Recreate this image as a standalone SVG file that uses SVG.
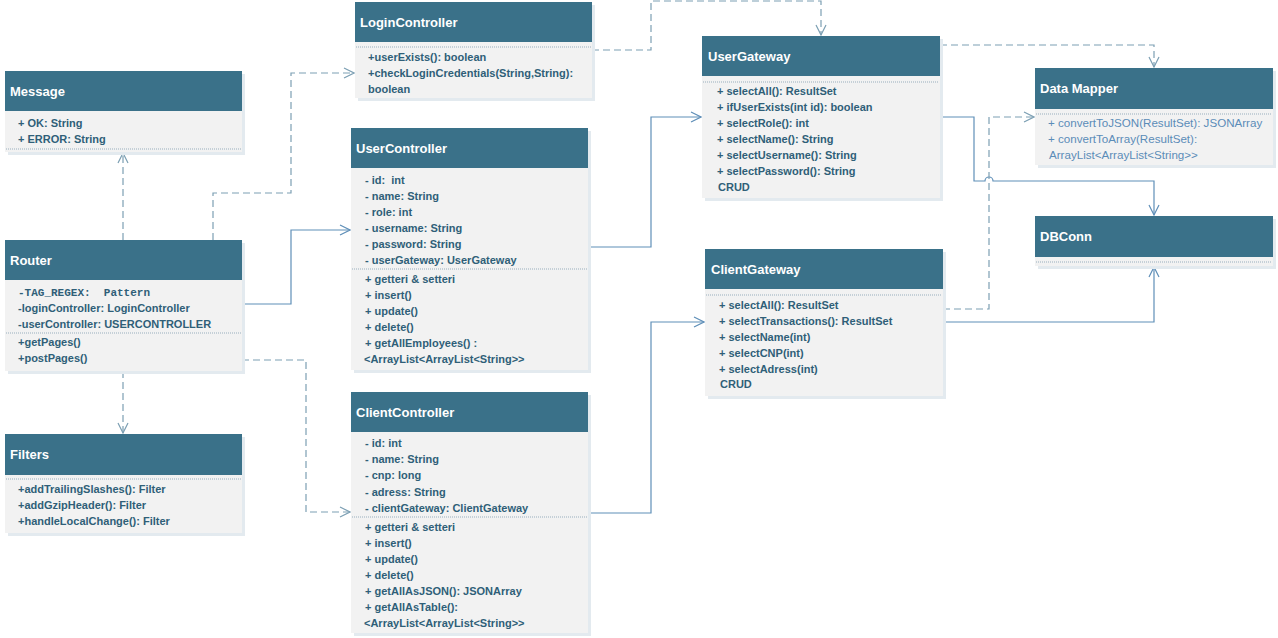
<svg xmlns="http://www.w3.org/2000/svg" width="1278" height="638" viewBox="0 0 1278 638">
<defs>
<style>
.sh{fill:#e3eaef}
.bd{fill:#f2f2f2}
.hd{fill:#3a7189}
.tt{font-family:"Liberation Sans",Arial,sans-serif;font-size:13px;font-weight:700;fill:#ffffff}
.tx{font-family:"Liberation Sans",Arial,sans-serif;font-size:11px;font-weight:700;fill:#2f5f78}
.mono{font-family:"Liberation Mono","Courier New",monospace;font-size:11px;font-weight:700;fill:#2f5f78}
.lt{font-family:"Liberation Sans",Arial,sans-serif;font-size:11.6px;fill:#5b8cb8}
.sep{stroke:#98aebd;stroke-width:1;stroke-dasharray:1,1;fill:none}
.dash{stroke:#7c9fb3;stroke-width:1.2;stroke-dasharray:7,4;fill:none}
.sol{stroke:#5f8fb8;stroke-width:1.2;fill:none}
</style>
<marker id="ad" viewBox="0 0 12 12" refX="11" refY="6" markerWidth="12" markerHeight="12" markerUnits="userSpaceOnUse" orient="auto">
<path d="M1,1 L11,6 L1,11" stroke="#7c9fb3" stroke-width="1.2" fill="none"/>
</marker>
<marker id="as" viewBox="0 0 12 12" refX="11" refY="6" markerWidth="12" markerHeight="12" markerUnits="userSpaceOnUse" orient="auto">
<path d="M1,1 L11,6 L1,11" stroke="#5f8fb8" stroke-width="1.2" fill="none"/>
</marker>
</defs>
<rect width="1278" height="638" fill="#ffffff"/>

<g id="connectors">
<path class="dash" d="M123,240 V153" marker-end="url(#ad)"/>
<path class="dash" d="M213,240 V193 H291 V73 H354" marker-end="url(#ad)"/>
<path class="sol" d="M242,304 H291 V230 H350" marker-end="url(#as)"/>
<path class="dash" d="M242,360 H306 V512 H350" marker-end="url(#ad)"/>
<path class="dash" d="M123,371 V433" marker-end="url(#ad)"/>
<path class="dash" d="M592,50 H651 V1 H821 V35" marker-end="url(#ad)"/>
<path class="sol" d="M588,247 H651 V117 H701" marker-end="url(#as)"/>
<path class="sol" d="M588,513 H651 V322 H704" marker-end="url(#as)"/>
<path class="dash" d="M940,45 H1154 V67" marker-end="url(#ad)"/>
<path class="sol" d="M940,117 H974 V181 H985 A4,4 0 0 1 993,181 H1154 V215" marker-end="url(#as)"/>
<path class="dash" d="M943,309 H989 V117 H1034" marker-end="url(#ad)"/>
<path class="sol" d="M943,322 H1154 V267" marker-end="url(#as)"/>
</g>

<g id="Message">
<rect class="sh" x="8" y="74" width="237" height="81"/>
<rect class="bd" x="5" y="71" width="237" height="81"/>
<rect class="hd" x="5" y="71" width="237" height="40"/>
<text class="tt" x="10" y="96">Message</text>
<text class="tx" x="18" y="127">+ OK: String</text>
<text class="tx" x="18" y="143">+ ERROR: String</text>
<line class="sep" x1="6" y1="149" x2="241" y2="149"/>
</g>

<g id="Router">
<rect class="sh" x="8" y="243" width="237" height="131"/>
<rect class="bd" x="5" y="240" width="237" height="131"/>
<rect class="hd" x="5" y="240" width="237" height="40"/>
<text class="tt" x="10" y="265">Router</text>
<text class="mono" x="18" y="296" xml:space="preserve">-TAG_REGEX:  Pattern</text>
<text class="tx" x="18" y="312">-loginController: LoginController</text>
<text class="tx" x="18" y="328">-userController: USERCONTROLLER</text>
<line class="sep" x1="6" y1="333" x2="241" y2="333"/>
<text class="tx" x="18" y="346">+getPages()</text>
<text class="tx" x="18" y="362">+postPages()</text>
</g>

<g id="Filters">
<rect class="sh" x="8" y="437" width="237" height="99"/>
<rect class="bd" x="5" y="434" width="237" height="99"/>
<rect class="hd" x="5" y="434" width="237" height="41"/>
<text class="tt" x="10" y="459">Filters</text>
<line class="sep" x1="6" y1="479" x2="241" y2="479"/>
<text class="tx" x="18" y="493">+addTrailingSlashes(): Filter</text>
<text class="tx" x="18" y="509">+addGzipHeader(): Filter</text>
<text class="tx" x="18" y="525">+handleLocalChange(): Filter</text>
</g>

<g id="LoginController">
<rect class="sh" x="358" y="5" width="237" height="96"/>
<rect class="bd" x="355" y="2" width="237" height="96"/>
<rect class="hd" x="355" y="2" width="237" height="40"/>
<text class="tt" x="360" y="27">LoginController</text>
<line class="sep" x1="356" y1="47" x2="591" y2="47"/>
<text class="tx" x="368" y="61">+userExists(): boolean</text>
<text class="tx" x="368" y="77">+checkLoginCredentials(String,String):</text>
<text class="tx" x="368" y="93">boolean</text>
</g>

<g id="UserController">
<rect class="sh" x="354" y="131" width="237" height="242"/>
<rect class="bd" x="351" y="128" width="237" height="242"/>
<rect class="hd" x="351" y="128" width="237" height="40"/>
<text class="tt" x="356" y="153">UserController</text>
<text class="tx" x="365" y="184" xml:space="preserve">- id:  int</text>
<text class="tx" x="365" y="200">- name: String</text>
<text class="tx" x="365" y="216">- role: int</text>
<text class="tx" x="365" y="232">- username: String</text>
<text class="tx" x="365" y="248">- password: String</text>
<text class="tx" x="365" y="264">- userGateway: UserGateway</text>
<line class="sep" x1="352" y1="269" x2="587" y2="269"/>
<text class="tx" x="365" y="283">+ getteri &amp; setteri</text>
<text class="tx" x="365" y="299">+ insert()</text>
<text class="tx" x="365" y="315">+ update()</text>
<text class="tx" x="365" y="331">+ delete()</text>
<text class="tx" x="365" y="347">+ getAllEmployees() :</text>
<text class="tx" x="364" y="363">&lt;ArrayList&lt;ArrayList&lt;String&gt;&gt;</text>
</g>

<g id="ClientController">
<rect class="sh" x="354" y="395" width="237" height="241"/>
<rect class="bd" x="351" y="392" width="237" height="241"/>
<rect class="hd" x="351" y="392" width="237" height="40"/>
<text class="tt" x="356" y="417">ClientController</text>
<text class="tx" x="365" y="447">- id: int</text>
<text class="tx" x="365" y="463">- name: String</text>
<text class="tx" x="365" y="479">- cnp: long</text>
<text class="tx" x="365" y="496">- adress: String</text>
<text class="tx" x="365" y="512">- clientGateway: ClientGateway</text>
<line class="sep" x1="352" y1="517" x2="587" y2="517"/>
<text class="tx" x="365" y="531">+ getteri &amp; setteri</text>
<text class="tx" x="365" y="547">+ insert()</text>
<text class="tx" x="365" y="563">+ update()</text>
<text class="tx" x="365" y="579">+ delete()</text>
<text class="tx" x="365" y="595">+ getAllAsJSON(): JSONArray</text>
<text class="tx" x="365" y="611">+ getAllAsTable():</text>
<text class="tx" x="364" y="627">&lt;ArrayList&lt;ArrayList&lt;String&gt;&gt;</text>
</g>

<g id="UserGateway">
<rect class="sh" x="705" y="39" width="238" height="162"/>
<rect class="bd" x="702" y="36" width="238" height="162"/>
<rect class="hd" x="702" y="36" width="238" height="40"/>
<text class="tt" x="708" y="61">UserGateway</text>
<line class="sep" x1="703" y1="82" x2="939" y2="82"/>
<text class="tx" x="717" y="95">+ selectAll(): ResultSet</text>
<text class="tx" x="717" y="111">+ ifUserExists(int id): boolean</text>
<text class="tx" x="717" y="127">+ selectRole(): int</text>
<text class="tx" x="717" y="143">+ selectName(): String</text>
<text class="tx" x="717" y="159">+ selectUsername(): String</text>
<text class="tx" x="717" y="175">+ selectPassword(): String</text>
<text class="tx" x="718" y="191">CRUD</text>
</g>

<g id="ClientGateway">
<rect class="sh" x="708" y="252" width="238" height="147"/>
<rect class="bd" x="705" y="249" width="238" height="147"/>
<rect class="hd" x="705" y="249" width="238" height="40"/>
<text class="tt" x="711" y="274">ClientGateway</text>
<line class="sep" x1="706" y1="295" x2="942" y2="295"/>
<text class="tx" x="719" y="309">+ selectAll(): ResultSet</text>
<text class="tx" x="719" y="325">+ selectTransactions(): ResultSet</text>
<text class="tx" x="719" y="341">+ selectName(int)</text>
<text class="tx" x="719" y="357">+ selectCNP(int)</text>
<text class="tx" x="719" y="373">+ selectAdress(int)</text>
<text class="tx" x="720" y="388">CRUD</text>
</g>

<g id="DataMapper">
<rect class="sh" x="1038" y="71" width="238" height="97"/>
<rect class="bd" x="1035" y="68" width="238" height="97"/>
<rect class="hd" x="1035" y="68" width="238" height="41"/>
<text class="tt" x="1040" y="93">Data Mapper</text>
<line class="sep" x1="1036" y1="114" x2="1272" y2="114"/>
<text class="lt" x="1048" y="127">+ convertToJSON(ResultSet): JSONArray</text>
<text class="lt" x="1048" y="143">+ convertToArray(ResultSet):</text>
<text class="lt" x="1049" y="159">ArrayList&lt;ArrayList&lt;String&gt;&gt;</text>
</g>

<g id="DBConn">
<rect class="sh" x="1038" y="219" width="238" height="50"/>
<rect class="bd" x="1035" y="216" width="238" height="50"/>
<rect class="hd" x="1035" y="216" width="238" height="41"/>
<text class="tt" x="1040" y="241">DBConn</text>
<line class="sep" x1="1036" y1="262" x2="1272" y2="262"/>
</g>
</svg>
